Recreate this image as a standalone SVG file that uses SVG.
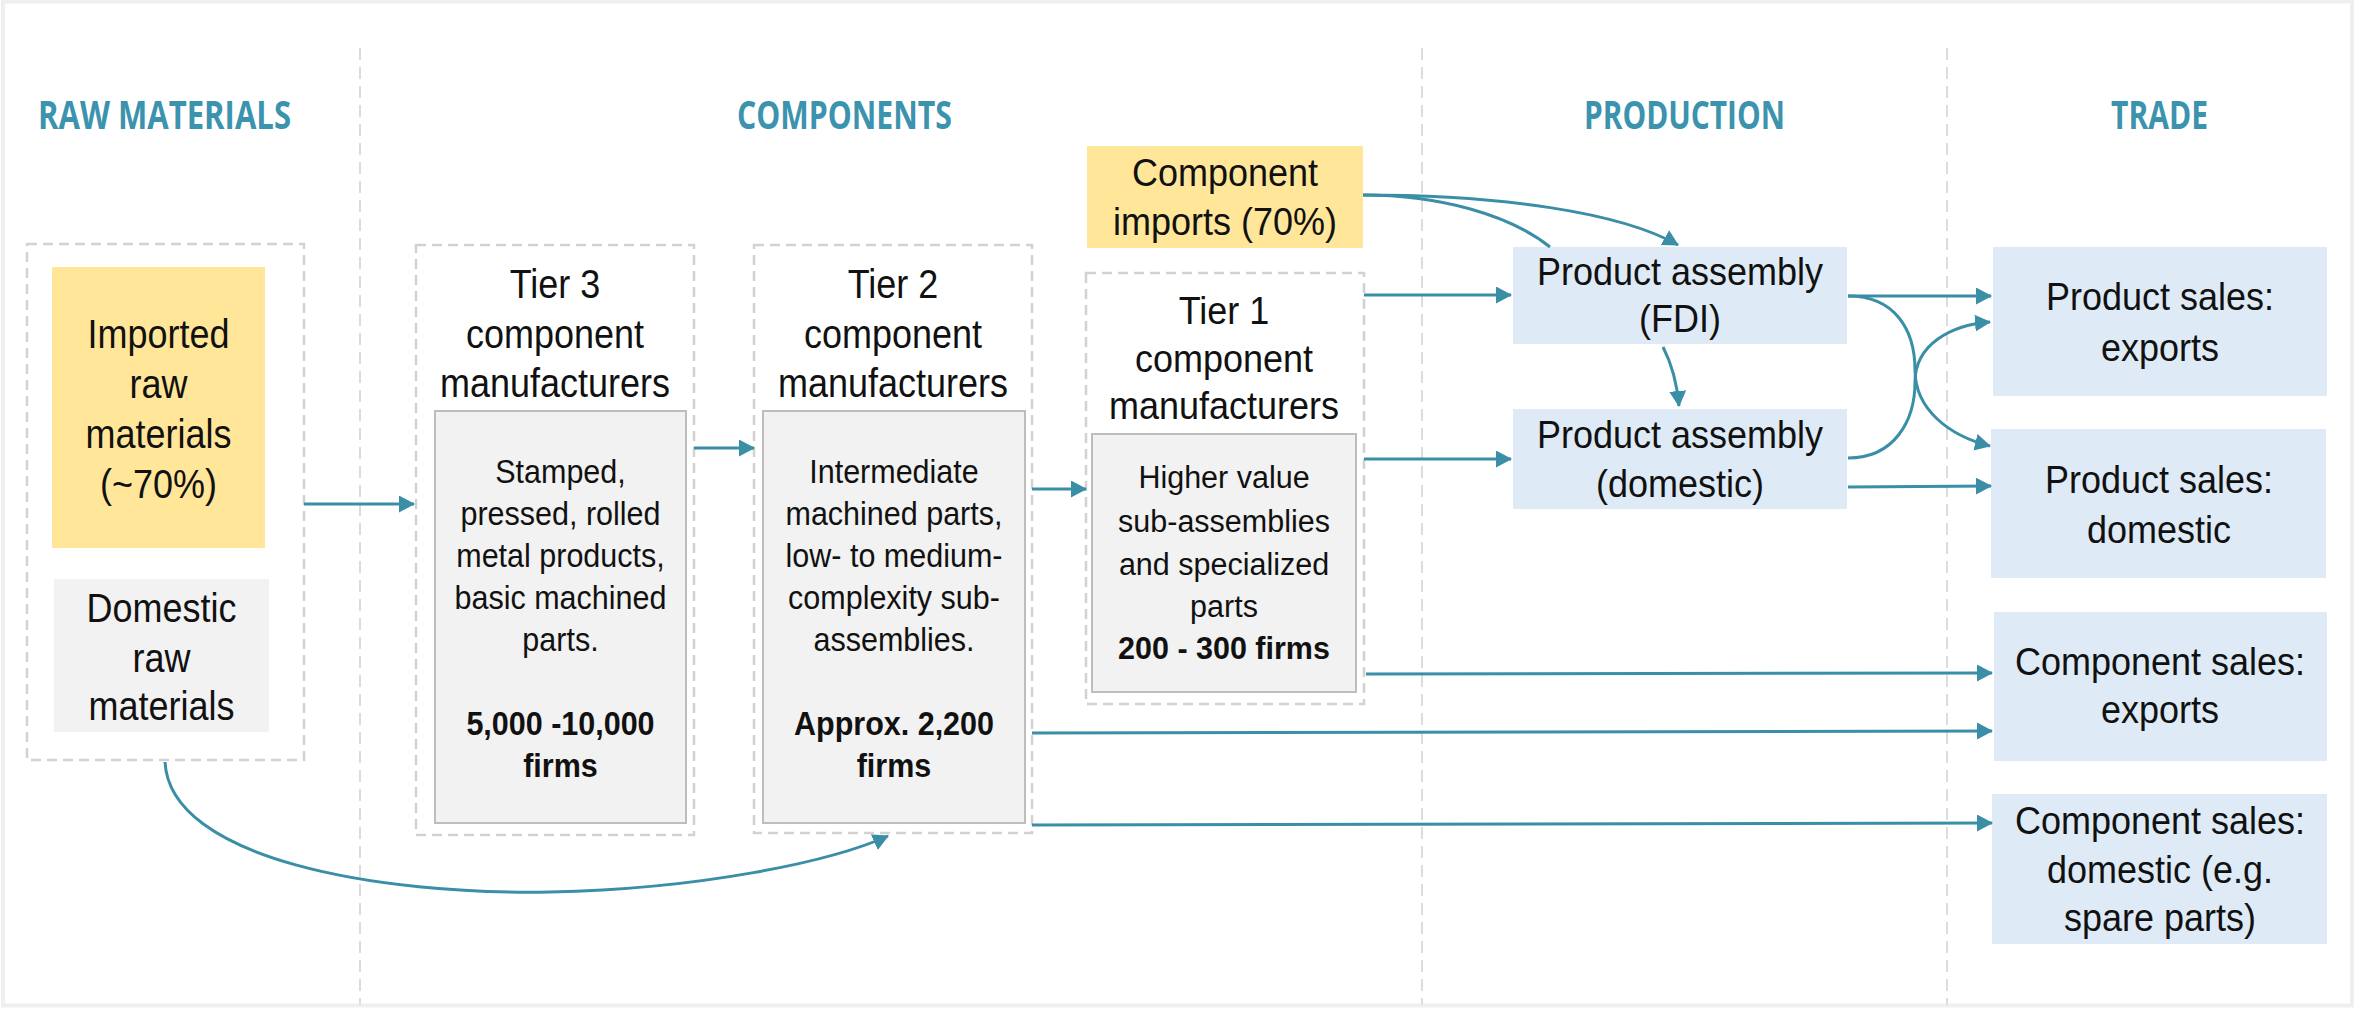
<svg xmlns="http://www.w3.org/2000/svg" width="2356" height="1009" viewBox="0 0 2356 1009">
<style>
.hdr{font-family:"Open Sans","Liberation Sans",sans-serif;font-weight:bold;font-size:35px;fill:#3b93ad;text-anchor:middle}
.t{font-family:"Liberation Sans",Arial,sans-serif;font-size:36px;fill:#111;text-anchor:middle}
.d{font-family:"Liberation Sans",Arial,sans-serif;font-size:30.5px;fill:#111;text-anchor:middle}
.b{font-weight:bold}
.sep{stroke:#dcdcdc;stroke-width:2;stroke-dasharray:12 7;fill:none}
.cont{fill:#fff;stroke:#d2d2d2;stroke-width:2.5;stroke-dasharray:10 6}
.gbox{fill:#f2f2f2;stroke:#bdbdbd;stroke-width:2}
.ybox{fill:#ffe699}
.lbox{fill:#f2f2f2}
.blue{fill:#deeaf6}
.c{fill:none;stroke:#3a8ea6;stroke-width:3}
</style>
<defs>
<marker id="ah" markerUnits="userSpaceOnUse" markerWidth="16" markerHeight="17" refX="15" refY="8.5" orient="auto">
<path d="M0,0 L16,8.5 L0,17 z" fill="#3a8ea6"/>
</marker>
</defs>
<rect x="0" y="0" width="2356" height="1009" fill="#ffffff"/>
<rect x="3" y="1.5" width="2349" height="1004" fill="none" stroke="#efefef" stroke-width="4"/>

<g id="separators">
<line class="sep" x1="360" y1="48" x2="360" y2="1005"/>
<line class="sep" x1="1422" y1="48" x2="1422" y2="1005"/>
<line class="sep" x1="1947" y1="48" x2="1947" y2="1005"/>
</g>

<g id="headers">
<text class="hdr" x="164.5" y="0" transform="translate(0,129) scale(1,1.1)" textLength="253" lengthAdjust="spacingAndGlyphs">RAW MATERIALS</text>
<text class="hdr" x="844.5" y="0" transform="translate(0,129) scale(1,1.1)" textLength="215" lengthAdjust="spacingAndGlyphs">COMPONENTS</text>
<text class="hdr" x="1684.5" y="0" transform="translate(0,129) scale(1,1.1)" textLength="201" lengthAdjust="spacingAndGlyphs">PRODUCTION</text>
<text class="hdr" x="2159.5" y="0" transform="translate(0,129) scale(1,1.1)" textLength="97" lengthAdjust="spacingAndGlyphs">TRADE</text>
</g>

<g id="raw-materials">
<rect class="cont" x="27" y="244" width="277" height="516"/>
<g id="imported-raw">
<rect class="ybox" x="52" y="267" width="213" height="281"/>
<text class="t" x="158.5" y="0" transform="translate(0,348) scale(1,1.12)">Imported</text>
<text class="t" x="158.5" y="0" transform="translate(0,398) scale(1,1.12)">raw</text>
<text class="t" x="158.5" y="0" transform="translate(0,448) scale(1,1.12)">materials</text>
<text class="t" x="158.5" y="0" transform="translate(0,498) scale(1,1.12)">(~70%)</text>
</g>
<g id="domestic-raw">
<rect class="lbox" x="54" y="579" width="215" height="153"/>
<text class="t" x="161.5" y="0" transform="translate(0,622) scale(1,1.12)">Domestic</text>
<text class="t" x="161.5" y="0" transform="translate(0,672) scale(1,1.12)">raw</text>
<text class="t" x="161.5" y="0" transform="translate(0,720) scale(1,1.12)">materials</text>
</g>
</g>

<g id="tier3">
<rect class="cont" x="416" y="245" width="278" height="590"/>
<text class="t" x="555" y="0" transform="translate(0,298) scale(1,1.12)">Tier 3</text>
<text class="t" x="555" y="0" transform="translate(0,348) scale(1,1.12)">component</text>
<text class="t" x="555" y="0" transform="translate(0,397) scale(1,1.12)">manufacturers</text>
<rect class="gbox" x="435" y="411" width="251" height="412"/>
<text class="d" x="560.5" y="0" transform="translate(0,483) scale(1,1.07)">Stamped,</text>
<text class="d" x="560.5" y="0" transform="translate(0,525) scale(1,1.07)">pressed, rolled</text>
<text class="d" x="560.5" y="0" transform="translate(0,567) scale(1,1.07)">metal products,</text>
<text class="d" x="560.5" y="0" transform="translate(0,609) scale(1,1.07)">basic machined</text>
<text class="d" x="560.5" y="0" transform="translate(0,651) scale(1,1.07)">parts.</text>
<text class="d b" x="560.5" y="0" transform="translate(0,735) scale(1,1.07)">5,000 -10,000</text>
<text class="d b" x="560.5" y="0" transform="translate(0,777) scale(1,1.07)">firms</text>
</g>

<g id="tier2">
<rect class="cont" x="754" y="245" width="278" height="588"/>
<text class="t" x="893" y="0" transform="translate(0,298) scale(1,1.12)">Tier 2</text>
<text class="t" x="893" y="0" transform="translate(0,348) scale(1,1.12)">component</text>
<text class="t" x="893" y="0" transform="translate(0,397) scale(1,1.12)">manufacturers</text>
<rect class="gbox" x="763" y="411" width="262" height="412"/>
<text class="d" x="894" y="0" transform="translate(0,483) scale(1,1.07)">Intermediate</text>
<text class="d" x="894" y="0" transform="translate(0,525) scale(1,1.07)">machined parts,</text>
<text class="d" x="894" y="0" transform="translate(0,567) scale(1,1.07)">low- to medium-</text>
<text class="d" x="894" y="0" transform="translate(0,609) scale(1,1.07)">complexity sub-</text>
<text class="d" x="894" y="0" transform="translate(0,651) scale(1,1.07)">assemblies.</text>
<text class="d b" x="894" y="0" transform="translate(0,735) scale(1,1.07)">Approx. 2,200</text>
<text class="d b" x="894" y="0" transform="translate(0,777) scale(1,1.07)">firms</text>
</g>

<g id="tier1">
<rect class="cont" x="1086" y="273" width="278" height="431"/>
<text class="t" x="1224" y="0" transform="translate(0,324) scale(1,1.1)">Tier 1</text>
<text class="t" x="1224" y="0" transform="translate(0,372) scale(1,1.1)">component</text>
<text class="t" x="1224" y="0" transform="translate(0,419) scale(1,1.1)">manufacturers</text>
<rect class="gbox" x="1092" y="434" width="264" height="258"/>
<text class="d" x="1224" y="0" transform="translate(0,488) scale(1,1.03)">Higher value</text>
<text class="d" x="1224" y="0" transform="translate(0,532) scale(1,1.03)">sub-assemblies</text>
<text class="d" x="1224" y="0" transform="translate(0,575) scale(1,1.03)">and specialized</text>
<text class="d" x="1224" y="0" transform="translate(0,617) scale(1,1.03)">parts</text>
<text class="d b" x="1224" y="0" transform="translate(0,659) scale(1,1.03)">200 - 300 firms</text>
</g>

<g id="component-imports">
<rect class="ybox" x="1087" y="146" width="276" height="102"/>
<text class="t" x="1225" y="0" transform="translate(0,186) scale(1,1.1)">Component</text>
<text class="t" x="1225" y="0" transform="translate(0,235) scale(1,1.1)">imports (70%)</text>
</g>

<g id="assembly-fdi">
<rect class="blue" x="1513" y="247" width="334" height="97"/>
<text class="t" x="1680" y="0" transform="translate(0,285) scale(1,1.06)">Product assembly</text>
<text class="t" x="1680" y="0" transform="translate(0,332) scale(1,1.06)">(FDI)</text>
</g>

<g id="assembly-domestic">
<rect class="blue" x="1513" y="409" width="334" height="100"/>
<text class="t" x="1680" y="0" transform="translate(0,448) scale(1,1.06)">Product assembly</text>
<text class="t" x="1680" y="0" transform="translate(0,497) scale(1,1.06)">(domestic)</text>
</g>

<g id="product-sales-exports">
<rect class="blue" x="1993" y="247" width="334" height="149"/>
<text class="t" x="2160" y="0" transform="translate(0,310) scale(1,1.08)">Product sales:</text>
<text class="t" x="2160" y="0" transform="translate(0,361) scale(1,1.08)">exports</text>
</g>

<g id="product-sales-domestic">
<rect class="blue" x="1991" y="429" width="335" height="149"/>
<text class="t" x="2159" y="0" transform="translate(0,493) scale(1,1.08)">Product sales:</text>
<text class="t" x="2159" y="0" transform="translate(0,543) scale(1,1.08)">domestic</text>
</g>

<g id="component-sales-exports">
<rect class="blue" x="1994" y="612" width="333" height="149"/>
<text class="t" x="2160" y="0" transform="translate(0,675) scale(1,1.08)">Component sales:</text>
<text class="t" x="2160" y="0" transform="translate(0,723) scale(1,1.08)">exports</text>
</g>

<g id="component-sales-domestic">
<rect class="blue" x="1992" y="794" width="335" height="150"/>
<text class="t" x="2160" y="0" transform="translate(0,834) scale(1,1.08)">Component sales:</text>
<text class="t" x="2160" y="0" transform="translate(0,883) scale(1,1.08)">domestic (e.g.</text>
<text class="t" x="2160" y="0" transform="translate(0,931) scale(1,1.08)">spare parts)</text>
</g>

<g id="connectors">
<path class="c" d="M304,504 L414,504" marker-end="url(#ah)"/>
<path class="c" d="M694,448 L754,448" marker-end="url(#ah)"/>
<path class="c" d="M1032,489 L1086,489" marker-end="url(#ah)"/>
<path class="c" d="M165,762 C170,860 380,895 550,892 C700,889 830,862 888,836" marker-end="url(#ah)"/>
<path class="c" d="M1363,195 C1500,195 1620,212 1678,245" marker-end="url(#ah)"/>
<path class="c" d="M1363,195 C1440,195 1510,215 1550,247"/>
<path class="c" d="M1364,295 L1511,295" marker-end="url(#ah)"/>
<path class="c" d="M1364,459 L1511,459" marker-end="url(#ah)"/>
<path class="c" d="M1663,347 Q1676,372 1679,406" marker-end="url(#ah)"/>
<path class="c" d="M1848,296 L1991,296" marker-end="url(#ah)"/>
<path class="c" d="M1848,296 C1895,296 1915,330 1915,370 C1915,410 1950,436 1990,446" marker-end="url(#ah)"/>
<path class="c" d="M1848,458 C1895,458 1915,420 1915,382 C1915,345 1950,325 1990,322" marker-end="url(#ah)"/>
<path class="c" d="M1848,487 L1991,486" marker-end="url(#ah)"/>
<path class="c" d="M1366,674 L1992,673" marker-end="url(#ah)"/>
<path class="c" d="M1032,733 L1992,731" marker-end="url(#ah)"/>
<path class="c" d="M1032,825 L1992,823" marker-end="url(#ah)"/>
</g>
</svg>
